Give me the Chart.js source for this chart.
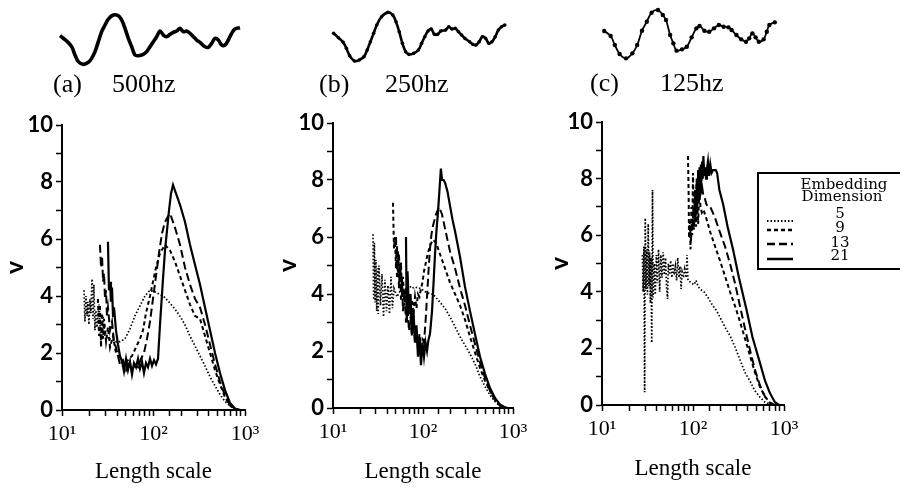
<!DOCTYPE html>
<html><head><meta charset="utf-8">
<script src="https://cdn.jsdelivr.net/npm/chart.js@4/dist/chart.umd.min.js"></script>
<style>
html,body{margin:0;padding:0;background:#fff;}
#wrap{position:relative;width:900px;height:490px;overflow:hidden;background:#fff;}
canvas{position:absolute;}
.lbl{position:absolute;font-family:"Liberation Serif","Times New Roman",serif;font-size:26px;color:#000;line-height:26px;white-space:nowrap;}
</style></head><body>
<div id="wrap">
<canvas id="wa" width="200" height="72" style="left:50px;top:2px;width:200px;height:72px"></canvas>
<canvas id="wb" width="200" height="72" style="left:320px;top:2px;width:200px;height:72px"></canvas>
<canvas id="wc" width="200" height="68" style="left:590px;top:0px;width:200px;height:68px"></canvas>
<div class="lbl" style="left:53px;top:71px">(a)</div>
<div class="lbl" style="left:112px;top:71px">500hz</div>
<div class="lbl" style="left:319px;top:71px">(b)</div>
<div class="lbl" style="left:385px;top:71px">250hz</div>
<div class="lbl" style="left:590px;top:70px">(c)</div>
<div class="lbl" style="left:660px;top:70px">125hz</div>
<canvas id="pa" width="270" height="390" style="left:0px;top:100px;width:270px;height:390px"></canvas>
<canvas id="pb" width="268" height="390" style="left:270px;top:100px;width:268px;height:390px"></canvas>
<canvas id="pc" width="360" height="390" style="left:540px;top:100px;width:360px;height:390px"></canvas>
</div>
<script>
// ---------- data ----------
const dimLabels = ['5', '9', '13', '21'];
const xTickLabels = {1: '10\u00B9', 2: '10\u00B2', 3: '10\u00B3'};
const yAxisLabel = 'v';
const xAxisLabel = 'Length scale';
const legendTitle = ['Embedding', 'Dimension'];

// Panel (a) 500hz
const a5x = [17.4, 17.8, 18.3, 18.8, 19.2, 19.7, 20.2, 20.7, 21.3, 21.8, 22.3, 22.9, 23.5, 24.1, 25.4, 26.7, 28.1, 29.5, 31.8, 35.2, 38.9, 43, 48.8, 55.3, 62.7, 71.1, 80.6, 91.4, 103.6, 117, 133, 151, 171, 194, 220, 250, 284, 322, 365, 414, 470, 532, 604, 685, 777, 881];
const a5y = [4.2, 3.1, 4.0, 3.3, 3.8, 3.0, 3.9, 3.4, 4.6, 3.2, 4.4, 2.8, 3.5, 2.9, 3.7, 2.3, 3.3, 2.6, 2.5, 2.5, 2.4, 2.4, 2.5, 2.85, 3.3, 3.65, 4.0, 4.2, 4.15, 4.05, 3.95, 3.75, 3.55, 3.3, 3.0, 2.6, 2.25, 1.9, 1.55, 1.17, 0.85, 0.55, 0.3, 0.15, 0.04, 0];
const a9x = [24.7, 25.4, 26.0, 26.7, 27.4, 28.1, 28.8, 30.3, 31.8, 33.5, 36.1, 38.9, 43.0, 47.6, 52.6, 58.2, 64.4, 71.2, 76.8, 82.8, 91.6, 98.7, 106.5, 117.8, 133.6, 151.5, 171.8, 194.9, 221, 250.6, 284.2, 322.3, 365.6, 414.6, 470.2, 533.2, 604.7, 685.8, 777.7, 882];
const a9y = [3.9, 2.6, 3.7, 2.2, 3.4, 2.5, 3.2, 2.4, 2.9, 2.2, 2.6, 2.0, 1.8, 1.6, 1.75, 1.9, 2.2, 2.5, 2.8, 3.4, 4.0, 4.5, 5.0, 5.5, 5.8, 5.6, 5.2, 4.7, 4.2, 3.7, 3.3, 3.2, 2.6, 2.0, 1.4, 0.9, 0.45, 0.16, 0.03, 0];
const a13x = [26.0, 26.7, 27.4, 28.1, 28.8, 29.5, 30.3, 31.0, 31.8, 33.5, 35.2, 37.0, 38.9, 40.9, 43.0, 46.4, 50.1, 54.0, 58.2, 62.8, 67.7, 73.0, 78.7, 84.9, 91.6, 98.7, 106.5, 114.8, 123.9, 133.6, 144.1, 151.5, 171.8, 194.9, 221, 250.6, 284.2, 322.3, 365.6, 414.6, 470.2, 533.2, 604.7, 685.8, 777.7, 882];
const a13y = [5.8, 5.0, 5.4, 4.5, 4.8, 3.9, 4.2, 3.3, 3.6, 2.8, 3.1, 2.4, 2.2, 1.9, 1.6, 1.75, 1.4, 1.7, 1.35, 1.6, 1.5, 1.8, 2.0, 2.5, 3.1, 3.9, 4.7, 5.5, 6.2, 6.6, 6.8, 6.9, 6.4, 5.8, 5.0, 4.4, 3.9, 3.6, 3.0, 2.3, 1.6, 1.0, 0.5, 0.18, 0.03, 0];
const a21x = [31.8, 32.6, 33.5, 34.3, 35.2, 36.1, 37.0, 38.9, 40.9, 43.0, 45.3, 47.6, 50.1, 52.6, 55.4, 58.2, 61.2, 64.4, 67.7, 71.2, 74.9, 78.7, 82.8, 87.1, 91.6, 96.3, 101.3, 106.5, 112, 117.8, 127, 133.6, 140.5, 147.7, 155.4, 163.4, 171.8, 194.9, 221, 250.6, 284.2, 322.3, 365.6, 414.6, 470.2, 533.2, 604.7, 685.8, 777.7, 882];
const a21y = [5.9, 4.2, 4.5, 3.8, 4.3, 3.3, 3.6, 2.8, 2.3, 1.9, 1.7, 1.35, 1.8, 1.4, 1.7, 1.25, 1.65, 1.5, 1.8, 1.45, 1.7, 1.3, 1.65, 1.5, 1.8, 1.55, 1.75, 1.6, 1.8, 3.0, 4.6, 5.6, 6.3, 7.0, 7.6, 7.9, 7.7, 7.2, 6.6, 5.8, 5.1, 4.4, 3.6, 2.8, 2.0, 1.3, 0.7, 0.25, 0.05, 0];

// Panel (b) 250hz
const b5x = [27.8, 28.3, 28.8, 29.4, 30, 30.6, 31.2, 31.8, 32.4, 33.7, 35, 36.4, 37.8, 39.3, 40.8, 42.4, 44.1, 45.8, 47.6, 51.4, 55.5, 59.9, 64.7, 69.9, 75.4, 81.5, 87.9, 95, 102.6, 110.8, 119.6, 129.2, 150.6, 175.6, 199.5, 227, 258, 293, 333, 378, 430, 489, 555, 631, 717, 815];
const b5y = [6.1, 3.8, 5.8, 3.7, 5.2, 3.4, 4.9, 3.3, 5.0, 3.6, 4.7, 3.2, 4.5, 3.4, 4.3, 3.3, 4.6, 3.5, 4.2, 3.9, 4.1, 4.0, 4.2, 4.3, 4.2, 4.25, 4.2, 4.2, 4.1, 4.05, 4.0, 4.0, 3.75, 3.5, 3.2, 2.85, 2.5, 2.2, 1.9, 1.55, 1.1, 0.75, 0.45, 0.22, 0.07, 0];
const b9x = [46.4, 47.6, 48.8, 50.1, 51.4, 52.7, 54.1, 55.5, 57, 58.4, 59.9, 62.3, 64.7, 67.3, 69.9, 72.6, 75.4, 78.4, 81.5, 84.6, 87.9, 91.4, 95, 98.7, 102.6, 110.8, 119.6, 129.2, 139.5, 150.6, 162.6, 175.6, 199.5, 227, 258, 293, 333, 378, 430, 489, 555, 631, 717, 815];
const b9y = [7.2, 5.6, 6.0, 4.9, 5.7, 4.6, 5.4, 4.4, 5.1, 3.9, 4.6, 3.6, 4.2, 3.5, 4.0, 3.4, 3.8, 3.3, 3.9, 3.5, 4.0, 3.9, 4.2, 4.4, 4.8, 5.3, 5.7, 5.9, 5.8, 5.5, 5.2, 4.9, 4.4, 4.0, 3.6, 3.1, 2.5, 1.95, 1.4, 0.95, 0.6, 0.3, 0.1, 0];
const b13x = [50.1, 51.4, 52.7, 54.1, 55.5, 57, 58.4, 59.9, 62.3, 64.7, 67.3, 69.9, 72.6, 75.4, 78.4, 81.5, 84.6, 87.9, 91.4, 95, 98.7, 102.6, 106.6, 110.8, 115.1, 119.6, 124.3, 129.2, 139.5, 150.6, 162.6, 175.6, 187, 199.5, 227, 258, 293, 333, 378, 430, 489, 555, 631, 717, 815];
const b13y = [6.0, 4.6, 5.5, 4.2, 5.0, 3.8, 4.6, 3.4, 4.1, 3.0, 3.6, 2.7, 3.2, 2.5, 3.0, 2.3, 2.8, 2.1, 2.6, 2.0, 2.4, 2.3, 3.0, 3.9, 4.8, 5.6, 6.1, 6.4, 6.8, 7.05, 6.8, 6.3, 5.9, 5.5, 4.9, 4.2, 3.6, 2.9, 2.25, 1.6, 1.05, 0.6, 0.28, 0.08, 0];
const b21x = [64.7, 66, 67.3, 69.9, 72.6, 75.4, 78.4, 81.5, 84.6, 87.9, 91.4, 95, 98.7, 102.6, 106.6, 110.8, 115.1, 119.6, 126, 131, 136, 141, 147, 152, 158, 163, 170, 176, 187, 199.5, 213, 227, 258, 293, 333, 378, 430, 489, 555, 631, 717, 815, 880];
const b21y = [6.0, 3.0, 4.8, 3.3, 4.0, 2.6, 3.4, 2.3, 2.9, 1.8, 2.5, 1.5, 2.3, 1.8, 2.3, 2.0, 2.4, 2.6, 3.4, 4.4, 5.4, 6.2, 6.9, 7.6, 8.4, 8.0, 8.0, 7.9, 7.6, 7.1, 6.6, 6.2, 5.3, 4.25, 3.4, 2.6, 1.8, 1.2, 0.7, 0.35, 0.12, 0.02, 0];

// Panel (c) 125hz
const c5x = [27.8, 28.3, 28.9, 29.4, 29.9, 30.4, 31.0, 31.6, 32.2, 32.8, 33.4, 34.0, 34.6, 35.2, 35.9, 36.5, 37.5, 38.5, 39.6, 40.6, 41.8, 43.0, 44.3, 45.6, 47.0, 48.4, 49.9, 51.4, 52.5, 53.6, 55.2, 56.9, 58.6, 60.3, 62.1, 64, 66, 68, 70, 72, 74, 76, 78.5, 81, 84, 86, 88, 92.7, 97.5, 102.6, 108, 113.5, 119.4, 132, 146, 162, 184, 198, 225, 255, 289.5, 328, 372.5, 422.5, 479, 544, 617, 700, 795];
const c5y = [5.3, 4.0, 5.6, 0.45, 6.6, 4.1, 5.5, 3.9, 6.4, 4.2, 5.4, 3.6, 5.2, 2.2, 7.6, 3.8, 5.0, 3.9, 5.3, 4.3, 5.5, 4.0, 5.3, 4.5, 5.4, 4.6, 5.2, 4.1, 3.75, 5.0, 4.6, 5.1, 4.5, 5.0, 4.6, 4.9, 4.4, 5.2, 4.5, 4.9, 4.1, 4.7, 4.5, 4.8, 4.5, 5.3, 4.4, 4.35, 4.3, 4.25, 4.4, 4.2, 4.1, 4.0, 3.8, 3.55, 3.3, 3.1, 2.75, 2.45, 2.05, 1.6, 1.15, 0.85, 0.5, 0.28, 0.1, 0.02, 0];
const c9x = [88.1, 89.5, 90.5, 92, 94, 96, 98, 100, 102.6, 105, 108, 111, 114, 117, 121, 125, 130, 140, 155, 175, 198, 225, 255, 289.5, 328, 372.5, 422.5, 479, 544, 617, 700, 795];
const c9y = [8.8, 7.5, 5.9, 6.5, 5.5, 7.0, 6.0, 8.2, 6.2, 7.6, 6.3, 7.2, 6.4, 7.5, 7.0, 6.8, 6.9, 6.6, 6.1, 5.6, 5.1, 4.55, 4.0, 3.5, 2.95, 2.35, 1.75, 1.15, 0.64, 0.3, 0.08, 0];
const c13x = [93, 95, 97, 99, 101, 103, 105, 107, 109, 111, 113, 116, 119, 122, 126, 130, 135, 140, 147, 155, 165, 175, 198, 225, 255, 289.5, 328, 372.5, 422.5, 479, 544, 617, 700, 795];
const c13y = [6.3, 5.8, 6.4, 6.2, 7.0, 6.3, 7.5, 6.6, 7.8, 7.0, 8.0, 7.2, 8.2, 7.5, 7.7, 7.4, 7.3, 7.1, 7.0, 7.0, 6.8, 6.6, 6.1, 5.6, 5.0, 4.3, 3.5, 2.7, 1.95, 1.25, 0.7, 0.3, 0.07, 0];
const c21x = [104, 106, 108, 110, 112, 114, 116, 118, 120, 122, 124, 126, 128, 130, 133, 136, 139, 142, 146, 150, 155, 160, 166, 172, 178, 184, 195, 214, 240, 275, 320, 388, 450, 545, 620, 700, 795, 880];
const c21y = [6.6, 7.6, 6.9, 8.0, 7.2, 8.3, 7.5, 8.4, 7.7, 8.5, 7.9, 8.6, 8.0, 8.8, 8.1, 8.4, 8.0, 8.3, 8.6, 8.1, 8.5, 8.2, 8.3, 8.3, 8.3, 8.2, 7.6, 7.1, 6.3, 5.5, 4.5, 3.36, 2.4, 1.48, 0.85, 0.42, 0.1, 0];

// Waveforms (time, amplitude)
const waveAt = [6, 10, 13, 15, 17, 20, 23, 25, 27, 29, 31, 33, 35, 38, 41, 43, 45, 47, 49, 51, 53, 56, 58, 60, 62, 64, 66, 68, 70, 72, 74, 76, 78, 80, 82, 84, 86, 88, 90, 93, 95, 97, 99, 101, 103, 105, 107, 109, 111, 114];
const waveAv = [0.8, -0.8, -2.5, -5, -7, -7.8, -7.2, -6, -4, -1, 2, 4, 5.8, 7, 6.8, 5.5, 3, 0, -2.5, -5, -5.2, -4.8, -4, -2.5, -1, 0.5, 2.2, 1, 0.5, 1.2, 1.8, 2.2, 3, 2, 2.2, 1.5, 0.5, -0.5, -1.2, -2.5, -2.7, -1.5, 0, -0.5, -2, -2, -0.5, 1.5, 2.8, 3.2];
const waveBt = [6, 9, 12, 14, 16, 19, 22, 25, 27, 29, 31, 33, 36, 40, 43, 45, 47, 49, 51, 53, 56, 59, 61, 63, 65, 67, 69, 71, 73, 76, 78, 80, 82, 84, 86, 88, 91, 93, 95, 97, 99, 101, 103, 105, 107, 109, 111, 113];
const waveBv = [1.5, 0.2, -1.2, -3, -5.2, -6.8, -6.5, -5.5, -3.5, -1, 1.5, 4, 6.5, 7.8, 7, 5, 2, -1.5, -4, -4.8, -4.5, -3.5, -1.5, 0.5, 2.2, 2.8, 1.2, 1.2, 2.2, 2.5, 3.5, 2.8, 3, 2, 1, 0, -1, -1.8, -2, -1, 0.5, 0, -1.5, -1, 0.5, 2.5, 3.5, 4];
const waveCt = [6.4, 10.4, 13, 16, 20, 24, 27, 30, 33, 36, 40, 43, 45, 47.6, 49.6, 51.6, 55, 58, 61, 64, 66, 69, 72, 75, 78, 81, 84, 86, 89, 92, 95, 97, 99, 101, 103, 106, 108, 109.6, 113];
const waveCv = [0.7, -0.8, -3.5, -6.2, -7.5, -6, -3.5, 0.8, 3.5, 6.2, 7, 5.5, 4, -0.5, -3, -5.2, -4.8, -4, -1.2, 1.5, 2.2, 0.8, 0.5, 1.5, 2.5, 2, 1.8, 1, -0.5, -1.8, -2.5, -1.5, 0, -1.2, -2.5, -1.8, 0.5, 2.5, 3.3];

// ---------- drawing ----------
Chart.defaults.color = '#000';
const lineStyles = [
  {borderDash: [1.5, 2], borderWidth: 1.7},
  {borderDash: [4, 3], borderWidth: 2},
  {borderDash: [8, 4], borderWidth: 2},
  {borderDash: [], borderWidth: 2.2}
];
const serif = '"Liberation Serif", "Times New Roman", serif';
const sansBold = 'Lato, "Liberation Sans", sans-serif';

const legendPlugin = {
  id: 'embLegend',
  afterDraw(chart) {
    const ctx = chart.ctx;
    ctx.save();
    ctx.strokeStyle = '#000';
    ctx.lineWidth = 2;
    ctx.setLineDash([]);
    ctx.strokeRect(218, 73, 150, 96);
    ctx.fillStyle = '#000';
    ctx.font = '15px "DejaVu Serif", serif';
    ctx.textAlign = 'center';
    ctx.textBaseline = 'alphabetic';
    ctx.fillText(legendTitle[0], 304, 89);
    ctx.fillText(legendTitle[1], 302, 101);
    const labelY = [118, 132, 147, 160];
    const lineY = [121, 130, 144, 159];
    chart.data.datasets.forEach((ds, i) => {
      ctx.fillText(ds.label, 300, labelY[i]);
      ctx.beginPath();
      ctx.setLineDash(ds.borderDash);
      ctx.lineWidth = ds.borderWidth + 0.3;
      ctx.moveTo(227, lineY[i]);
      ctx.lineTo(253, lineY[i]);
      ctx.stroke();
    });
    ctx.restore();
  }
};

function makePanel(id, xs, ys, g) {
  const datasets = xs.map((xArr, i) => ({
    label: dimLabels[i],
    data: xArr.map((x, j) => ({x: x, y: ys[i][j]})),
    borderColor: '#000',
    borderDash: lineStyles[i].borderDash,
    borderWidth: lineStyles[i].borderWidth,
    pointRadius: 0,
    tension: 0,
    fill: false
  }));
  const gridOpts = {display: true, drawOnChartArea: false, drawTicks: true, tickLength: 6, tickColor: '#000', tickWidth: 1.5};
  const borderOpts = {display: true, color: '#000', width: 2};
  new Chart(document.getElementById(id), {
    type: 'line',
    data: {datasets: datasets},
    options: {
      responsive: false, animation: false, devicePixelRatio: 1,
      layout: {padding: {left: 0, right: g.right, top: g.top, bottom: 0}},
      plugins: {legend: {display: false}, tooltip: {enabled: false}},
      scales: {
        x: {
          type: 'logarithmic', min: 10, max: 1000,
          afterFit: (s) => { s.height = g.xh; },
          grid: gridOpts, border: borderOpts,
          ticks: {
            autoSkip: false, maxRotation: 0, minRotation: 0, padding: 5, color: '#000',
            font: {family: serif, size: 22},
            callback: (v) => {
              const l = Math.log10(v);
              const r = Math.round(l);
              return Math.abs(l - r) < 1e-9 && xTickLabels[r] ? xTickLabels[r] : '';
            }
          },
          title: {display: true, text: xAxisLabel, color: '#000', font: {family: serif, size: 23}, padding: {top: 4, bottom: g.tpad}}
        },
        y: {
          min: 0, max: 10,
          afterFit: (s) => { s.width = g.yw; },
          grid: gridOpts, border: borderOpts,
          ticks: {
            stepSize: 1, autoSkip: false, padding: 3, color: '#000',
            font: {family: sansBold, weight: 'bold', size: 22},
            callback: (v) => (v % 2 === 0 ? String(v) : '')
          },
          title: {display: true, text: yAxisLabel, color: '#000', font: {family: sansBold, weight: 'bold', size: 25}, padding: {top: g.vpad, bottom: 0}}
        }
      }
    },
    plugins: g.legend ? [legendPlugin] : []
  });
}

function makeWave(id, t, v, o) {
  new Chart(document.getElementById(id), {
    type: 'line',
    data: {datasets: [{
      data: t.map((x, i) => ({x: x, y: v[i]})),
      borderColor: '#000', borderWidth: o.lw,
      pointRadius: o.pr, pointBackgroundColor: '#000', pointBorderWidth: 0,
      tension: 0.35, fill: false, clip: false
    }]},
    options: {
      responsive: false, animation: false, devicePixelRatio: 1,
      layout: {padding: {left: 0, right: 0, top: o.top, bottom: o.bottom}},
      plugins: {legend: {display: false}, tooltip: {enabled: false}},
      scales: {x: {type: 'linear', display: false, min: 0, max: 120}, y: {display: false, min: -8, max: 8}}
    }
  });
}

makeWave('wa', waveAt, waveAv, {lw: 3.6, pr: 0, top: 9.7, bottom: 9});
makeWave('wb', waveBt, waveBv, {lw: 2.6, pr: 1.8, top: 9.7, bottom: 9});
makeWave('wc', waveCt, waveCv, {lw: 1.8, pr: 2.2, top: 6.7, bottom: 8});

makePanel('pa', [a5x, a9x, a13x, a21x], [a5y, a9y, a13y, a21y], {right: 25, top: 25, yw: 62, xh: 80, vpad: 0, tpad: 4});
makePanel('pb', [b5x, b9x, b13x, b21x], [b5y, b9y, b13y, b21y], {right: 25, top: 23, yw: 63, xh: 82, vpad: 3, tpad: 4});
makePanel('pc', [c5x, c9x, c13x, c21x], [c5y, c9y, c13y, c21y], {right: 116, top: 22, yw: 62, xh: 85, vpad: 5, tpad: 7, legend: true});
</script>
</body></html>
